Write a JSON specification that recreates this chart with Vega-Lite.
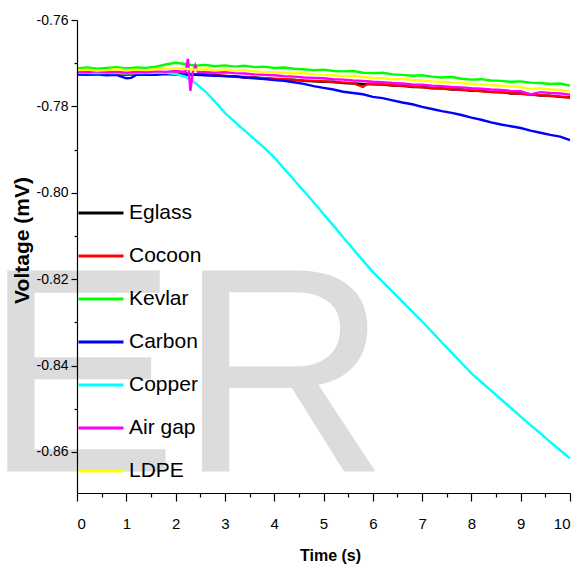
{
  "$schema": "https://vega.github.io/schema/vega-lite/v6.json",
  "width": 493,
  "height": 473,
  "autosize": {"type": "none"},
  "padding": {"left": 77, "top": 20, "right": 9, "bottom": 77},
  "background": "white",
  "config": {
    "view": {"stroke": null},
    "axis": {"grid": false, "domainColor": "#000", "tickColor": "#000", "labelColor": "#000", "titleColor": "#000", "zindex": 1, "domainWidth": 1.2, "tickWidth": 1.2}
  },
  "datasets": {
    "wm": [{"label": "ER", "t": -1.9, "v": -0.8645}],
    "d": [
      {"s":"Eglass","t":0,"v":-0.7722},{"s":"Eglass","t":0.2,"v":-0.7723},{"s":"Eglass","t":0.4,"v":-0.7724},{"s":"Eglass","t":0.6,"v":-0.7723},{"s":"Eglass","t":0.8,"v":-0.7725},{"s":"Eglass","t":1,"v":-0.7727},{"s":"Eglass","t":1.2,"v":-0.7725},{"s":"Eglass","t":1.4,"v":-0.7724},{"s":"Eglass","t":1.6,"v":-0.7723},{"s":"Eglass","t":1.8,"v":-0.7724},{"s":"Eglass","t":2,"v":-0.7725},{"s":"Eglass","t":2.2,"v":-0.7724},{"s":"Eglass","t":2.4,"v":-0.7726},{"s":"Eglass","t":2.6,"v":-0.7726},{"s":"Eglass","t":2.8,"v":-0.7728},{"s":"Eglass","t":3,"v":-0.773},{"s":"Eglass","t":3.2,"v":-0.773},{"s":"Eglass","t":3.4,"v":-0.7733},{"s":"Eglass","t":3.6,"v":-0.7733},{"s":"Eglass","t":3.8,"v":-0.7735},{"s":"Eglass","t":4,"v":-0.7737},{"s":"Eglass","t":4.2,"v":-0.7738},{"s":"Eglass","t":4.4,"v":-0.7738},{"s":"Eglass","t":4.6,"v":-0.7741},{"s":"Eglass","t":4.8,"v":-0.7742},{"s":"Eglass","t":5,"v":-0.7743},{"s":"Eglass","t":5.2,"v":-0.7743},{"s":"Eglass","t":5.4,"v":-0.7746},{"s":"Eglass","t":5.6,"v":-0.7747},{"s":"Eglass","t":5.8,"v":-0.7748},{"s":"Eglass","t":6,"v":-0.7749},{"s":"Eglass","t":6.2,"v":-0.7749},{"s":"Eglass","t":6.4,"v":-0.7752},{"s":"Eglass","t":6.6,"v":-0.7752},{"s":"Eglass","t":6.8,"v":-0.7755},{"s":"Eglass","t":7,"v":-0.7755},{"s":"Eglass","t":7.2,"v":-0.7758},{"s":"Eglass","t":7.4,"v":-0.7758},{"s":"Eglass","t":7.6,"v":-0.7761},{"s":"Eglass","t":7.8,"v":-0.7761},{"s":"Eglass","t":8,"v":-0.7764},{"s":"Eglass","t":8.2,"v":-0.7764},{"s":"Eglass","t":8.4,"v":-0.7767},{"s":"Eglass","t":8.6,"v":-0.7767},{"s":"Eglass","t":8.8,"v":-0.777},{"s":"Eglass","t":9,"v":-0.777},{"s":"Eglass","t":9.2,"v":-0.7772},{"s":"Eglass","t":9.4,"v":-0.7775},{"s":"Eglass","t":9.6,"v":-0.7775},{"s":"Eglass","t":9.8,"v":-0.7778},{"s":"Eglass","t":10,"v":-0.7779},

      {"s":"Cocoon","t":0,"v":-0.7723},{"s":"Cocoon","t":0.2,"v":-0.7724},{"s":"Cocoon","t":0.4,"v":-0.7723},{"s":"Cocoon","t":0.6,"v":-0.7725},{"s":"Cocoon","t":0.8,"v":-0.7724},{"s":"Cocoon","t":1,"v":-0.7726},{"s":"Cocoon","t":1.2,"v":-0.7724},{"s":"Cocoon","t":1.4,"v":-0.7723},{"s":"Cocoon","t":1.6,"v":-0.7724},{"s":"Cocoon","t":1.8,"v":-0.7723},{"s":"Cocoon","t":2,"v":-0.7724},{"s":"Cocoon","t":2.2,"v":-0.7725},{"s":"Cocoon","t":2.4,"v":-0.7726},{"s":"Cocoon","t":2.6,"v":-0.7727},{"s":"Cocoon","t":2.8,"v":-0.7728},{"s":"Cocoon","t":3,"v":-0.7729},{"s":"Cocoon","t":3.2,"v":-0.7731},{"s":"Cocoon","t":3.4,"v":-0.7732},{"s":"Cocoon","t":3.6,"v":-0.7734},{"s":"Cocoon","t":3.8,"v":-0.7735},{"s":"Cocoon","t":4,"v":-0.7736},{"s":"Cocoon","t":4.2,"v":-0.7737},{"s":"Cocoon","t":4.4,"v":-0.7739},{"s":"Cocoon","t":4.6,"v":-0.774},{"s":"Cocoon","t":4.8,"v":-0.7741},{"s":"Cocoon","t":5,"v":-0.7742},{"s":"Cocoon","t":5.2,"v":-0.7744},{"s":"Cocoon","t":5.4,"v":-0.7745},{"s":"Cocoon","t":5.6,"v":-0.7746},{"s":"Cocoon","t":5.8,"v":-0.7755},{"s":"Cocoon","t":5.9,"v":-0.7747},{"s":"Cocoon","t":6,"v":-0.7748},{"s":"Cocoon","t":6.2,"v":-0.775},{"s":"Cocoon","t":6.4,"v":-0.7751},{"s":"Cocoon","t":6.6,"v":-0.7753},{"s":"Cocoon","t":6.8,"v":-0.7754},{"s":"Cocoon","t":7,"v":-0.7756},{"s":"Cocoon","t":7.2,"v":-0.7757},{"s":"Cocoon","t":7.4,"v":-0.7759},{"s":"Cocoon","t":7.6,"v":-0.776},{"s":"Cocoon","t":7.8,"v":-0.7762},{"s":"Cocoon","t":8,"v":-0.7763},{"s":"Cocoon","t":8.2,"v":-0.7765},{"s":"Cocoon","t":8.4,"v":-0.7766},{"s":"Cocoon","t":8.6,"v":-0.7768},{"s":"Cocoon","t":8.8,"v":-0.7769},{"s":"Cocoon","t":9,"v":-0.7771},{"s":"Cocoon","t":9.2,"v":-0.7773},{"s":"Cocoon","t":9.4,"v":-0.7774},{"s":"Cocoon","t":9.6,"v":-0.7776},{"s":"Cocoon","t":9.8,"v":-0.7777},{"s":"Cocoon","t":10,"v":-0.778},

      {"s":"Kevlar","t":0,"v":-0.7712},{"s":"Kevlar","t":0.2,"v":-0.771},{"s":"Kevlar","t":0.4,"v":-0.7713},{"s":"Kevlar","t":0.6,"v":-0.7711},{"s":"Kevlar","t":0.8,"v":-0.7709},{"s":"Kevlar","t":1,"v":-0.7712},{"s":"Kevlar","t":1.2,"v":-0.771},{"s":"Kevlar","t":1.4,"v":-0.7711},{"s":"Kevlar","t":1.6,"v":-0.7708},{"s":"Kevlar","t":1.8,"v":-0.7703},{"s":"Kevlar","t":2,"v":-0.7699},{"s":"Kevlar","t":2.2,"v":-0.7702},{"s":"Kevlar","t":2.4,"v":-0.7706},{"s":"Kevlar","t":2.6,"v":-0.7704},{"s":"Kevlar","t":2.8,"v":-0.7707},{"s":"Kevlar","t":3,"v":-0.7705},{"s":"Kevlar","t":3.2,"v":-0.7708},{"s":"Kevlar","t":3.4,"v":-0.7706},{"s":"Kevlar","t":3.6,"v":-0.7709},{"s":"Kevlar","t":3.8,"v":-0.7708},{"s":"Kevlar","t":4,"v":-0.7711},{"s":"Kevlar","t":4.2,"v":-0.771},{"s":"Kevlar","t":4.4,"v":-0.7713},{"s":"Kevlar","t":4.6,"v":-0.7714},{"s":"Kevlar","t":4.8,"v":-0.7716},{"s":"Kevlar","t":5,"v":-0.7715},{"s":"Kevlar","t":5.2,"v":-0.7718},{"s":"Kevlar","t":5.4,"v":-0.7719},{"s":"Kevlar","t":5.6,"v":-0.7718},{"s":"Kevlar","t":5.8,"v":-0.7722},{"s":"Kevlar","t":6,"v":-0.7723},{"s":"Kevlar","t":6.2,"v":-0.7722},{"s":"Kevlar","t":6.4,"v":-0.7726},{"s":"Kevlar","t":6.6,"v":-0.7727},{"s":"Kevlar","t":6.8,"v":-0.7729},{"s":"Kevlar","t":7,"v":-0.7728},{"s":"Kevlar","t":7.2,"v":-0.7731},{"s":"Kevlar","t":7.4,"v":-0.7733},{"s":"Kevlar","t":7.6,"v":-0.7732},{"s":"Kevlar","t":7.8,"v":-0.7736},{"s":"Kevlar","t":8,"v":-0.7738},{"s":"Kevlar","t":8.2,"v":-0.7737},{"s":"Kevlar","t":8.4,"v":-0.774},{"s":"Kevlar","t":8.6,"v":-0.7741},{"s":"Kevlar","t":8.8,"v":-0.7743},{"s":"Kevlar","t":9,"v":-0.7742},{"s":"Kevlar","t":9.2,"v":-0.7745},{"s":"Kevlar","t":9.4,"v":-0.7746},{"s":"Kevlar","t":9.6,"v":-0.7748},{"s":"Kevlar","t":9.8,"v":-0.7747},{"s":"Kevlar","t":10,"v":-0.7752},

      {"s":"Carbon","t":0,"v":-0.7726},{"s":"Carbon","t":0.2,"v":-0.7727},{"s":"Carbon","t":0.4,"v":-0.7726},{"s":"Carbon","t":0.6,"v":-0.7728},{"s":"Carbon","t":0.8,"v":-0.7727},{"s":"Carbon","t":1,"v":-0.7735},{"s":"Carbon","t":1.1,"v":-0.7734},{"s":"Carbon","t":1.2,"v":-0.7727},{"s":"Carbon","t":1.4,"v":-0.7726},{"s":"Carbon","t":1.6,"v":-0.7727},{"s":"Carbon","t":1.8,"v":-0.7725},{"s":"Carbon","t":2,"v":-0.7726},{"s":"Carbon","t":2.2,"v":-0.7727},{"s":"Carbon","t":2.4,"v":-0.7727},{"s":"Carbon","t":2.6,"v":-0.7728},{"s":"Carbon","t":2.8,"v":-0.7729},{"s":"Carbon","t":3,"v":-0.773},{"s":"Carbon","t":3.2,"v":-0.7731},{"s":"Carbon","t":3.4,"v":-0.7733},{"s":"Carbon","t":3.6,"v":-0.7735},{"s":"Carbon","t":3.8,"v":-0.7737},{"s":"Carbon","t":4,"v":-0.7739},{"s":"Carbon","t":4.2,"v":-0.7741},{"s":"Carbon","t":4.4,"v":-0.7744},{"s":"Carbon","t":4.6,"v":-0.7748},{"s":"Carbon","t":4.8,"v":-0.7753},{"s":"Carbon","t":5,"v":-0.7757},{"s":"Carbon","t":5.2,"v":-0.7761},{"s":"Carbon","t":5.4,"v":-0.7766},{"s":"Carbon","t":5.6,"v":-0.7769},{"s":"Carbon","t":5.8,"v":-0.7772},{"s":"Carbon","t":6,"v":-0.7778},{"s":"Carbon","t":6.2,"v":-0.7781},{"s":"Carbon","t":6.4,"v":-0.7786},{"s":"Carbon","t":6.6,"v":-0.7791},{"s":"Carbon","t":6.8,"v":-0.7795},{"s":"Carbon","t":7,"v":-0.7801},{"s":"Carbon","t":7.2,"v":-0.7806},{"s":"Carbon","t":7.4,"v":-0.7811},{"s":"Carbon","t":7.6,"v":-0.7815},{"s":"Carbon","t":7.8,"v":-0.782},{"s":"Carbon","t":8,"v":-0.7826},{"s":"Carbon","t":8.2,"v":-0.7831},{"s":"Carbon","t":8.4,"v":-0.7837},{"s":"Carbon","t":8.6,"v":-0.7842},{"s":"Carbon","t":8.8,"v":-0.7846},{"s":"Carbon","t":9,"v":-0.785},{"s":"Carbon","t":9.2,"v":-0.7856},{"s":"Carbon","t":9.4,"v":-0.7861},{"s":"Carbon","t":9.6,"v":-0.7866},{"s":"Carbon","t":9.8,"v":-0.787},{"s":"Carbon","t":10,"v":-0.7878},

      {"s":"Copper","t":0,"v":-0.7722},{"s":"Copper","t":0.2,"v":-0.7723},{"s":"Copper","t":0.4,"v":-0.7722},{"s":"Copper","t":0.6,"v":-0.7723},{"s":"Copper","t":0.8,"v":-0.7722},{"s":"Copper","t":1,"v":-0.7724},{"s":"Copper","t":1.2,"v":-0.7722},{"s":"Copper","t":1.4,"v":-0.7723},{"s":"Copper","t":1.6,"v":-0.7722},{"s":"Copper","t":1.8,"v":-0.7722},{"s":"Copper","t":2,"v":-0.7725},{"s":"Copper","t":2.2,"v":-0.7731},{"s":"Copper","t":2.4,"v":-0.7746},{"s":"Copper","t":2.6,"v":-0.7765},{"s":"Copper","t":2.8,"v":-0.7789},{"s":"Copper","t":3,"v":-0.7815},{"s":"Copper","t":3.2,"v":-0.7836},{"s":"Copper","t":3.4,"v":-0.7856},{"s":"Copper","t":3.6,"v":-0.7876},{"s":"Copper","t":3.8,"v":-0.7896},{"s":"Copper","t":4,"v":-0.7918},{"s":"Copper","t":4.2,"v":-0.7944},{"s":"Copper","t":4.4,"v":-0.797},{"s":"Copper","t":4.6,"v":-0.7996},{"s":"Copper","t":4.8,"v":-0.8022},{"s":"Copper","t":5,"v":-0.8049},{"s":"Copper","t":5.2,"v":-0.8076},{"s":"Copper","t":5.4,"v":-0.8103},{"s":"Copper","t":5.6,"v":-0.813},{"s":"Copper","t":5.8,"v":-0.8157},{"s":"Copper","t":6,"v":-0.8183},{"s":"Copper","t":6.2,"v":-0.8206},{"s":"Copper","t":6.4,"v":-0.8229},{"s":"Copper","t":6.6,"v":-0.8252},{"s":"Copper","t":6.8,"v":-0.8275},{"s":"Copper","t":7,"v":-0.8298},{"s":"Copper","t":7.2,"v":-0.8322},{"s":"Copper","t":7.4,"v":-0.8346},{"s":"Copper","t":7.6,"v":-0.837},{"s":"Copper","t":7.8,"v":-0.8394},{"s":"Copper","t":8,"v":-0.8418},{"s":"Copper","t":8.2,"v":-0.8438},{"s":"Copper","t":8.4,"v":-0.8458},{"s":"Copper","t":8.6,"v":-0.8478},{"s":"Copper","t":8.8,"v":-0.8498},{"s":"Copper","t":9,"v":-0.8518},{"s":"Copper","t":9.2,"v":-0.8538},{"s":"Copper","t":9.4,"v":-0.8557},{"s":"Copper","t":9.6,"v":-0.8577},{"s":"Copper","t":9.8,"v":-0.8596},{"s":"Copper","t":10,"v":-0.8615},

      {"s":"Air gap","t":0,"v":-0.772},{"s":"Air gap","t":0.2,"v":-0.7721},{"s":"Air gap","t":0.4,"v":-0.7719},{"s":"Air gap","t":0.6,"v":-0.7721},{"s":"Air gap","t":0.8,"v":-0.772},{"s":"Air gap","t":1,"v":-0.7722},{"s":"Air gap","t":1.2,"v":-0.772},{"s":"Air gap","t":1.4,"v":-0.7721},{"s":"Air gap","t":1.6,"v":-0.7719},{"s":"Air gap","t":1.8,"v":-0.772},{"s":"Air gap","t":2,"v":-0.7718},{"s":"Air gap","t":2.2,"v":-0.772},{"s":"Air gap","t":2.25,"v":-0.769},{"s":"Air gap","t":2.3,"v":-0.7764},{"s":"Air gap","t":2.35,"v":-0.7721},{"s":"Air gap","t":2.4,"v":-0.7705},{"s":"Air gap","t":2.45,"v":-0.772},{"s":"Air gap","t":2.6,"v":-0.7721},{"s":"Air gap","t":2.8,"v":-0.7722},{"s":"Air gap","t":3,"v":-0.7721},{"s":"Air gap","t":3.2,"v":-0.7723},{"s":"Air gap","t":3.4,"v":-0.7724},{"s":"Air gap","t":3.6,"v":-0.7726},{"s":"Air gap","t":3.8,"v":-0.7727},{"s":"Air gap","t":4,"v":-0.7728},{"s":"Air gap","t":4.2,"v":-0.773},{"s":"Air gap","t":4.4,"v":-0.7731},{"s":"Air gap","t":4.6,"v":-0.7733},{"s":"Air gap","t":4.8,"v":-0.7734},{"s":"Air gap","t":5,"v":-0.7735},{"s":"Air gap","t":5.2,"v":-0.7737},{"s":"Air gap","t":5.4,"v":-0.7738},{"s":"Air gap","t":5.6,"v":-0.774},{"s":"Air gap","t":5.8,"v":-0.7741},{"s":"Air gap","t":6,"v":-0.7743},{"s":"Air gap","t":6.2,"v":-0.7744},{"s":"Air gap","t":6.4,"v":-0.7746},{"s":"Air gap","t":6.6,"v":-0.7747},{"s":"Air gap","t":6.8,"v":-0.7749},{"s":"Air gap","t":7,"v":-0.775},{"s":"Air gap","t":7.2,"v":-0.7752},{"s":"Air gap","t":7.4,"v":-0.7753},{"s":"Air gap","t":7.6,"v":-0.7755},{"s":"Air gap","t":7.8,"v":-0.7756},{"s":"Air gap","t":8,"v":-0.7758},{"s":"Air gap","t":8.2,"v":-0.7759},{"s":"Air gap","t":8.4,"v":-0.7761},{"s":"Air gap","t":8.6,"v":-0.7762},{"s":"Air gap","t":8.8,"v":-0.7764},{"s":"Air gap","t":9,"v":-0.7765},{"s":"Air gap","t":9.2,"v":-0.7772},{"s":"Air gap","t":9.4,"v":-0.7767},{"s":"Air gap","t":9.6,"v":-0.7769},{"s":"Air gap","t":9.8,"v":-0.777},{"s":"Air gap","t":10,"v":-0.7773},

      {"s":"LDPE","t":0,"v":-0.7716},{"s":"LDPE","t":0.2,"v":-0.7715},{"s":"LDPE","t":0.4,"v":-0.7717},{"s":"LDPE","t":0.6,"v":-0.7716},{"s":"LDPE","t":0.8,"v":-0.7714},{"s":"LDPE","t":1,"v":-0.7716},{"s":"LDPE","t":1.2,"v":-0.7715},{"s":"LDPE","t":1.4,"v":-0.7716},{"s":"LDPE","t":1.6,"v":-0.7714},{"s":"LDPE","t":1.8,"v":-0.7713},{"s":"LDPE","t":2,"v":-0.7712},{"s":"LDPE","t":2.2,"v":-0.7713},{"s":"LDPE","t":2.4,"v":-0.7715},{"s":"LDPE","t":2.6,"v":-0.7714},{"s":"LDPE","t":2.8,"v":-0.7716},{"s":"LDPE","t":3,"v":-0.7715},{"s":"LDPE","t":3.2,"v":-0.7717},{"s":"LDPE","t":3.4,"v":-0.7716},{"s":"LDPE","t":3.6,"v":-0.7719},{"s":"LDPE","t":3.8,"v":-0.772},{"s":"LDPE","t":4,"v":-0.7721},{"s":"LDPE","t":4.2,"v":-0.7722},{"s":"LDPE","t":4.4,"v":-0.7724},{"s":"LDPE","t":4.6,"v":-0.7723},{"s":"LDPE","t":4.8,"v":-0.7726},{"s":"LDPE","t":5,"v":-0.7727},{"s":"LDPE","t":5.2,"v":-0.7728},{"s":"LDPE","t":5.4,"v":-0.773},{"s":"LDPE","t":5.6,"v":-0.7729},{"s":"LDPE","t":5.8,"v":-0.7732},{"s":"LDPE","t":6,"v":-0.7734},{"s":"LDPE","t":6.2,"v":-0.7735},{"s":"LDPE","t":6.4,"v":-0.7737},{"s":"LDPE","t":6.6,"v":-0.7736},{"s":"LDPE","t":6.8,"v":-0.7739},{"s":"LDPE","t":7,"v":-0.774},{"s":"LDPE","t":7.2,"v":-0.7742},{"s":"LDPE","t":7.4,"v":-0.7743},{"s":"LDPE","t":7.6,"v":-0.7745},{"s":"LDPE","t":7.8,"v":-0.7746},{"s":"LDPE","t":8,"v":-0.7748},{"s":"LDPE","t":8.2,"v":-0.7749},{"s":"LDPE","t":8.4,"v":-0.7751},{"s":"LDPE","t":8.6,"v":-0.7752},{"s":"LDPE","t":8.8,"v":-0.7754},{"s":"LDPE","t":9,"v":-0.7755},{"s":"LDPE","t":9.2,"v":-0.776},{"s":"LDPE","t":9.4,"v":-0.7758},{"s":"LDPE","t":9.6,"v":-0.7761},{"s":"LDPE","t":9.8,"v":-0.7762},{"s":"LDPE","t":10,"v":-0.7765}
    ]
  },
  "layer": [
    {
      "data": {"name": "wm"},
      "mark": {"type": "text", "align": "left", "baseline": "alphabetic", "font": "Liberation Sans, Arial, sans-serif", "fontSize": 292, "color": "#dcdcdc"},
      "encoding": {
        "x": {"field": "t", "type": "quantitative", "scale": {"domain": [0, 10], "nice": false, "zero": false},
          "axis": {"orient": "bottom", "zindex": 1, "values": [0.5,1.5,2.5,3.5,4.5,5.5,6.5,7.5,8.5,9.5], "labels": false, "domain": false, "tickSize": 4, "title": null}},
        "y": {"field": "v", "type": "quantitative", "scale": {"domain": [-0.8695, -0.76], "nice": false, "zero": false},
          "axis": {"orient": "left", "zindex": 1, "values": [-0.77,-0.79,-0.81,-0.83,-0.85], "labels": false, "domain": false, "tickSize": 3, "title": null}},
        "text": {"field": "label"}
      }
    },
    {
      "data": {"name": "d"},
      "mark": {"type": "line", "strokeWidth": 2.4},
      "encoding": {
        "x": {"field": "t", "type": "quantitative",
          "axis": {"orient": "bottom", "zindex": 2, "values": [0,1,2,3,4,5,6,7,8,9,10], "tickSize": 8, "labelPadding": 15, "labelFont": "Liberation Sans, Arial, sans-serif", "labelFontSize": 15,
            "title": "Time (s)", "titleFont": "Liberation Sans, Arial, sans-serif", "titleFontSize": 16, "titleFontWeight": "bold", "titleX": 253, "titleY": 67, "titleBaseline": "alphabetic", "titleAlign": "center"}},
        "y": {"field": "v", "type": "quantitative",
          "axis": {"orient": "left", "zindex": 2, "values": [-0.76,-0.78,-0.8,-0.82,-0.84,-0.86], "tickSize": 6, "labelPadding": 3,
            "labelExpr": "replace(format(datum.value, '.2f'), '\u2212', '-')",
            "labelFont": "Liberation Sans, Arial, sans-serif", "labelFontSize": 14,
            "title": "Voltage (mV)", "titleFont": "Liberation Sans, Arial, sans-serif", "titleFontSize": 21, "titleFontWeight": "bold", "titleX": -55, "titleY": 220, "titleAngle": 270, "titleAlign": "center", "titleBaseline": "middle"}},
        "color": {"field": "s", "type": "nominal",
          "scale": {"domain": ["Eglass","Cocoon","Kevlar","Carbon","Copper","Air gap","LDPE"], "range": ["#000000","#ff0000","#00ff00","#0000ff","#00ffff","#ff00ff","#ffff00"]},
          "legend": {"orient": "none", "zindex": 3, "legendX": 0, "legendY": 169, "title": null, "symbolType": "stroke", "symbolSize": 2025, "symbolStrokeWidth": 3, "labelFontSize": 21, "labelFont": "Liberation Sans, Arial, sans-serif", "labelColor": "#000", "labelOffset": 4, "rowPadding": 9, "padding": 0, "symbolOffset": 0}
        }
      }
    }
  ],
  "resolve": {"axis": {"x": "independent", "y": "independent"}}
}
